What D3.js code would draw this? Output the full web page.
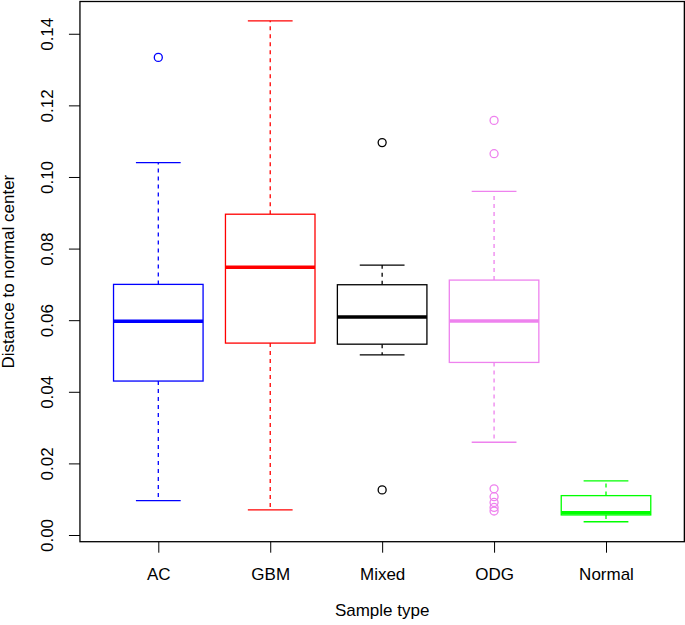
<!DOCTYPE html>
<html>
<head>
<meta charset="utf-8">
<script src="https://cdn.jsdelivr.net/npm/d3@7"></script>
<style>
  body { margin: 0; background: #fff; }
  svg { display: block; }
  text { font-family: "Liberation Sans", Arial, Helvetica, sans-serif; }
</style>
</head>
<body>
<script>
// values
var categories = ["AC", "GBM", "Mixed", "ODG", "Normal"];
var colors = ["#0000FF", "#FF0000", "#000000", "#EE82EE", "#00FF00"];
var whiskerLow = [0.0096, 0.0070, 0.0503, 0.0259, 0.0037];
var boxLow = [0.0430, 0.0536, 0.0533, 0.0482, 0.0056];
var medians = [0.0597, 0.0748, 0.0609, 0.0598, 0.0062];
var boxHigh = [0.0700, 0.0896, 0.0699, 0.0712, 0.0110];
var whiskerHigh = [0.1040, 0.1436, 0.0754, 0.0960, 0.0151];
var outliers = [
  [0.1334],
  [],
  [0.1096, 0.0126],
  [0.1158, 0.1065, 0.0129, 0.0107, 0.0091, 0.0077, 0.0067],
  []
];
var yTicks = [0, 0.02, 0.04, 0.06, 0.08, 0.10, 0.12, 0.14];

var width = 685, height = 625;
var fontSize = "17px";

var svg = d3.select("body").append("svg")
  .attr("width", width)
  .attr("height", height);

var x = d3.scalePoint()
  .domain(categories)
  .range([158.3, 606]);
var step = x.step();

var y = d3.scaleLinear()
  .domain([-0.00187, 0.14901])
  .range([541.7, 1.5]);

// plot frame edges (R adds 4% on each side)
var frameLeft = x(categories[0]) - step * 0.7;
var frameRight = x(categories[categories.length - 1]) + step * 0.7;
var frameTop = y.range()[1], frameBottom = y.range()[0];

// y axis
var yAxis = svg.append("g")
  .attr("transform", "translate(" + frameLeft + ",0)")
  .call(d3.axisLeft(y).tickValues(yTicks).tickFormat(d3.format(".2f")).tickSize(11).tickPadding(0));
yAxis.select(".domain").remove();
yAxis.selectAll(".tick line").attr("stroke", "#000");
yAxis.selectAll(".tick text")
  .attr("transform", "rotate(-90)")
  .attr("x", 0)
  .attr("y", -27)
  .attr("dy", null)
  .attr("text-anchor", "middle")
  .style("font-size", fontSize)
  .attr("fill", "#000");

// x axis
var xAxis = svg.append("g")
  .attr("transform", "translate(0," + frameBottom + ")")
  .call(d3.axisBottom(x).tickSize(11).tickPadding(0));
xAxis.select(".domain").remove();
xAxis.selectAll(".tick line").attr("stroke", "#000");
xAxis.selectAll(".tick text")
  .attr("y", 38.5)
  .attr("dy", null)
  .style("font-size", fontSize)
  .attr("fill", "#000");

// axis titles
svg.append("text")
  .attr("x", (frameLeft + frameRight) / 2)
  .attr("y", 616)
  .attr("text-anchor", "middle")
  .style("font-size", fontSize)
  .text("Sample type");

svg.append("text")
  .attr("transform", "translate(14," + ((frameTop + frameBottom) / 2) + ") rotate(-90)")
  .attr("text-anchor", "middle")
  .style("font-size", fontSize)
  .text("Distance to normal center");

// the boxes
var half = step * 0.4, capHalf = step * 0.2;
var groups = svg.selectAll("g.box")
  .data(categories)
  .enter().append("g")
  .attr("class", "box");

groups.each(function(c, i) {
  var g = d3.select(this);
  var cx = x(c);
  var col = colors[i];

  // whiskers
  g.append("line")
    .attr("x1", cx).attr("x2", cx)
    .attr("y1", y(boxHigh[i])).attr("y2", y(whiskerHigh[i]))
    .attr("stroke", col).attr("stroke-width", 1.3).attr("stroke-dasharray", "4,4");
  g.append("line")
    .attr("x1", cx).attr("x2", cx)
    .attr("y1", y(boxLow[i])).attr("y2", y(whiskerLow[i]))
    .attr("stroke", col).attr("stroke-width", 1.3).attr("stroke-dasharray", "4,4");

  // staples
  [whiskerLow[i], whiskerHigh[i]].forEach(function(v) {
    g.append("line")
      .attr("x1", cx - capHalf).attr("x2", cx + capHalf)
      .attr("y1", y(v)).attr("y2", y(v))
      .attr("stroke", col).attr("stroke-width", 1.3);
  });

  // box
  g.append("rect")
    .attr("x", cx - half)
    .attr("y", y(boxHigh[i]))
    .attr("width", half * 2)
    .attr("height", y(boxLow[i]) - y(boxHigh[i]))
    .attr("fill", "#fff")
    .attr("stroke", col)
    .attr("stroke-width", 1.3);

  // median
  g.append("line")
    .attr("x1", cx - half).attr("x2", cx + half)
    .attr("y1", y(medians[i])).attr("y2", y(medians[i]))
    .attr("stroke", col).attr("stroke-width", 3.5);

  // outliers
  g.selectAll("circle")
    .data(outliers[i])
    .enter().append("circle")
    .attr("cx", cx)
    .attr("cy", function(d) { return y(d); })
    .attr("r", 4)
    .attr("fill", "none")
    .attr("stroke", col)
    .attr("stroke-width", 1.3);
});

// frame
svg.append("rect")
  .attr("x", frameLeft)
  .attr("y", frameTop)
  .attr("width", frameRight - frameLeft)
  .attr("height", frameBottom - frameTop)
  .attr("fill", "none")
  .attr("stroke", "#000")
  .attr("stroke-width", 1.3);
</script>
</body>
</html>
